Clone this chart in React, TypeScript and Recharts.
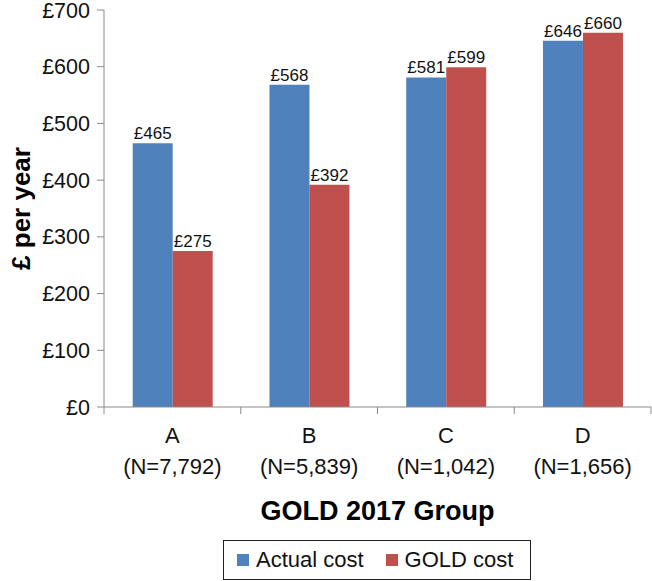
import { Bar, BarChart, LabelList, Legend, XAxis, YAxis } from 'recharts'

const groups = ['A', 'B', 'C', 'D']
const groupSizes = ['(N=7,792)', '(N=5,839)', '(N=1,042)', '(N=1,656)']
const actualCost = [465, 568, 581, 646]
const goldCost = [275, 392, 599, 660]
const yTicks = [0, 100, 200, 300, 400, 500, 600, 700]

const BLUE = '#4F81BD'
const RED = '#C0504D'
const AXIS = '#8a8a8a'
const FONT = '"Liberation Sans", Arial, sans-serif'

const W = 652
const H = 581
const AXIS_W = 104
const RIGHT = 1
const HALF_BAND = (W - AXIS_W - RIGHT) / groups.length / 2

const data = groups.map((g, i) => ({
  group: g,
  size: groupSizes[i],
  actual: actualCost[i],
  gold: goldCost[i],
}))

const pound = (v: unknown) => `£${v}`

function GroupTick(props: any) {
  const { x, y, index } = props
  const label = data[index]
  return (
    <g>
      <line x1={x - HALF_BAND} x2={x - HALF_BAND} y1={y} y2={y + 7} stroke={AXIS} />
      {index === groups.length - 1 && (
        <line x1={x + HALF_BAND} x2={x + HALF_BAND} y1={y} y2={y + 7} stroke={AXIS} />
      )}
      <text x={x} y={y} textAnchor="middle" fontFamily={FONT} fontSize={22} fill="#111">
        <tspan x={x} dy={36}>{label.group}</tspan>
        <tspan x={x} dy={31}>{label.size}</tspan>
      </text>
    </g>
  )
}

function LegendBox() {
  const item = (color: string, text: string, gap: number) => (
    <span style={{ display: 'inline-flex', alignItems: 'center', marginRight: gap }}>
      <span style={{ width: 12, height: 12, background: color, marginRight: 7, display: 'inline-block' }} />
      {text}
    </span>
  )
  return (
    <div style={{ display: 'flex', justifyContent: 'center', alignItems: 'flex-end', height: 46, paddingLeft: AXIS_W - RIGHT }}>
      <div
        style={{
          border: '1.5px solid #222',
          boxSizing: 'border-box',
          padding: '0 10px 0 13px',
          fontFamily: FONT,
          fontSize: 22,
          color: '#111',
          display: 'flex',
          alignItems: 'center',
          height: 40,
          width: 308,
        }}
      >
        {item(BLUE, 'Actual cost', 22)}
        {item(RED, 'GOLD cost', 0)}
      </div>
    </div>
  )
}

export default function App() {
  return (
    <div style={{ position: 'absolute', left: 0, top: 0, width: W, height: H, background: '#fff' }}>
      <BarChart
        width={W}
        height={H}
        data={data}
        margin={{ top: 10, right: RIGHT, bottom: 1, left: 0 }}
        barCategoryGap="21%"
        barGap={0}
      >
        <XAxis
          dataKey="group"
          height={127}
          stroke={AXIS}
          tickLine={false}
          tickSize={0}
          tickMargin={0}
          interval={0}
          tick={<GroupTick />}
          label={{
            value: 'GOLD 2017 Group',
            position: 'insideBottom',
            offset: 14,
            fontFamily: FONT,
            fontSize: 27,
            fontWeight: 'bold',
            fill: '#000',
          }}
        />
        <YAxis
          width={AXIS_W}
          domain={[0, 700]}
          ticks={yTicks}
          interval={0}
          stroke={AXIS}
          tickSize={7}
          tickMargin={7}
          tickFormatter={pound}
          tick={{ fontFamily: FONT, fontSize: 21.5, fill: '#111' }}
          label={{
            content: (p: any) => {
              const vb = p.viewBox
              const cx = 21
              const cy = vb.y + vb.height / 2
              return (
                <text
                  x={cx}
                  y={cy}
                  transform={`rotate(-90 ${cx} ${cy})`}
                  textAnchor="middle"
                  dominantBaseline="central"
                  fontFamily={FONT}
                  fontSize={26}
                  fontWeight="bold"
                  fill="#000"
                >
                  £ per year
                </text>
              )
            },
          }}
        />
        <Legend verticalAlign="bottom" height={46} content={<LegendBox />} />
        <Bar dataKey="actual" name="Actual cost" fill={BLUE} isAnimationActive={false}>
          <LabelList dataKey="actual" position="top" offset={4} formatter={pound} fontFamily={FONT} fontSize={17} fill="#111" />
        </Bar>
        <Bar dataKey="gold" name="GOLD cost" fill={RED} isAnimationActive={false}>
          <LabelList dataKey="gold" position="top" offset={4} formatter={pound} fontFamily={FONT} fontSize={17} fill="#111" />
        </Bar>
      </BarChart>
    </div>
  )
}
